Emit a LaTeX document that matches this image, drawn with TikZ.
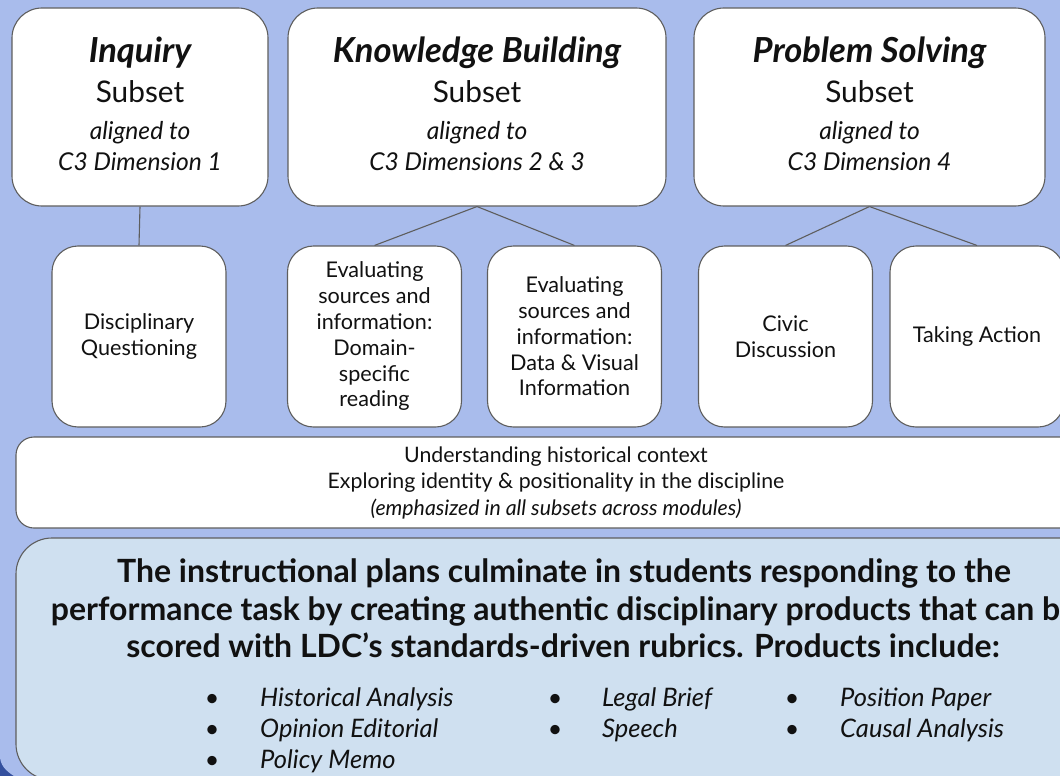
\documentclass[tikz,border=0pt]{standalone}
\usepackage{fontspec}
\setmainfont{Lato}
\definecolor{bg}{HTML}{A9BCEC}
\definecolor{panel}{HTML}{CFE0F0}
\definecolor{edge}{HTML}{5E5E5E}
\definecolor{corner}{HTML}{34509E}
\definecolor{ink}{HTML}{111111}
\begin{document}
\begin{tikzpicture}[x=1pt,y=-1pt,
  box/.style={draw=edge,line width=1.1pt,fill=white,rounded corners=30pt,inner sep=0pt},
  small/.style={box,rounded corners=26pt,minimum width=174pt,minimum height=181pt,align=center,
    font=\fontsize{21.6}{25.8}\selectfont,text=ink},
  ln/.style={anchor=base,inner sep=0pt,text=ink},
  title/.style={ln,font=\fontsize{34.5}{40}\selectfont\bfseries\itshape},
  sub/.style={ln,font=\fontsize{29.8}{34}\selectfont},
  al/.style={ln,font=\fontsize{24.6}{28}\selectfont\itshape},
  big/.style={ln,font=\fontsize{32}{38}\selectfont\bfseries},
  bul/.style={ln,font=\fontsize{25}{28}\selectfont},
  item/.style={ln,anchor=base west,font=\fontsize{25.5}{28}\selectfont\itshape},
  conn/.style={draw=edge,line width=1.1pt}]
\useasboundingbox (0,0) rectangle (1060,776);
\clip (0,0) rectangle (1060,776);
\fill[corner] (0,0) rectangle (1060,776);
\fill[bg] (0,0) -- (1060,0) -- (1060,776) -- (14,776) .. controls (6,771) and (0,765) .. (0,756) -- cycle;

% top boxes
\node[box,minimum width=256pt,minimum height=198pt] (inq) at (140,107) {};
\node[box,minimum width=378pt,minimum height=198pt] (kb) at (477,107) {};
\node[box,minimum width=351pt,minimum height=198pt] (ps) at (869.5,107) {};

\node[title] (inqt) at (140,63) {Inquiry};
\node[sub] (inqs) at (140,102) {Subset};
\node[al] (inqa) at (140,139) {aligned to};
\node[al] (inqc) at (140,170) {C3 Dimension 1};

\node[title] (kbt) at (477,63) {Knowledge Building};
\node[sub] (kbs) at (477,102) {Subset};
\node[al] (kba) at (477,139) {aligned to};
\node[al] (kbc) at (477,170) {C3 Dimensions 2 \& 3};

\node[title] (pst) at (869.5,63) {Problem Solving};
\node[sub] (pss) at (869.5,102) {Subset};
\node[al] (psa) at (869.5,139) {aligned to};
\node[al] (psc) at (869.5,170) {C3 Dimension 4};

% second row
\node[small] (dq) at (139,336.5) {Disciplinary\\Questioning};
\node[small] (ev1) at (374.5,336.5) {Evaluating\\sources and\\information:\\Domain-\\specific\\reading};
\node[small] (ev2) at (574.5,336.5) {Evaluating\\sources and\\information:\\Data \& Visual\\Information};
\node[small] (civ) at (785.5,336.5) {Civic\\Discussion};
\node[small] (ta) at (977,336.5) {Taking Action};

\draw[conn] (inq.south) -- (dq.north);
\draw[conn] (kb.south) -- (ev1.north);
\draw[conn] (kb.south) -- (ev2.north);
\draw[conn] (ps.south) -- (civ.north);
\draw[conn] (ps.south) -- (ta.north);

% context band
\node[box,rounded corners=18pt,minimum width=1080pt,minimum height=91pt,align=center,
  font=\fontsize{21.3}{26.5}\selectfont,text=ink] (ctx) at (556,482.5)
  {Understanding historical context\\Exploring identity \& positionality in the discipline\\\textit{(emphasized in all subsets across modules)}};

% bottom panel
\node[box,fill=panel,rounded corners=36pt,minimum width=1094pt,minimum height=242pt] (panel) at (563,659) {};
\node[big] (b1) at (564,582) {The instructional plans culminate in students responding to the};
\node[big] (b2) at (564,620) {performance task by creating authentic disciplinary products that can be};
\node[big] (b3) at (563,657) {scored with LDC’s standards-driven rubrics. Products include:};

\node[bul] (d1) at (212,706) {•};
\node[bul] (d2) at (212,737) {•};
\node[bul] (d3) at (212,768) {•};
\node[item] (i1) at (260,706) {Historical Analysis};
\node[item] (i2) at (260,737) {Opinion Editorial};
\node[item] (i3) at (260,768) {Policy Memo};

\node[bul] (d4) at (555,706) {•};
\node[bul] (d5) at (555,737) {•};
\node[item] (i4) at (602,706) {Legal Brief};
\node[item] (i5) at (602,737) {Speech};

\node[bul] (d6) at (792,706) {•};
\node[bul] (d7) at (792,737) {•};
\node[item] (i6) at (840,706) {Position Paper};
\node[item] (i7) at (840,737) {Causal Analysis};
\end{tikzpicture}
\end{document}
